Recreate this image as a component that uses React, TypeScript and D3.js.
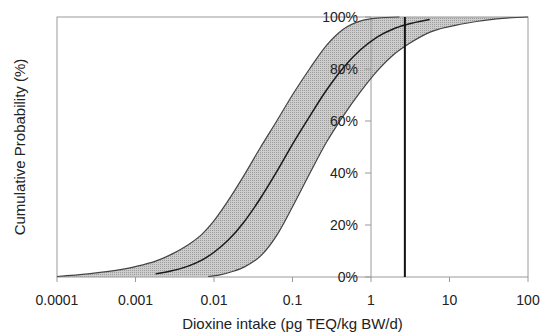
import React from "react";
import * as d3 from "d3";

// Upper bound curve (left edge of the band)
const leftX = [0.0001, 0.00025, 0.00067, 0.001, 0.0018, 0.0029, 0.0047, 0.007, 0.0098, 0.0145, 0.0236, 0.0385, 0.063, 0.102, 0.167, 0.273, 0.444, 0.724, 1.18, 2.3];
const leftP = [0.2, 1.2, 2.9, 4.0, 6.1, 8.8, 12.4, 16.4, 21.3, 28.5, 38.6, 49.5, 60, 70.5, 80.3, 89.2, 95.3, 98.4, 99.6, 100];

// Median curve
const medX = [0.0018, 0.0029, 0.0047, 0.007, 0.0103, 0.0152, 0.0236, 0.0385, 0.063, 0.102, 0.167, 0.273, 0.444, 0.724, 1.18, 1.92, 2.71, 5.6];
const medP = [1.2, 2.4, 4.2, 6.5, 9.8, 14.2, 20.8, 30.0, 40.5, 51.5, 62, 72, 80.5, 87.2, 92.2, 95.4, 96.9, 99.0];

// Lower bound curve (right edge of the band)
const rightX = [0.0084, 0.0119, 0.0176, 0.0248, 0.0406, 0.063, 0.102, 0.167, 0.273, 0.444, 0.724, 1.18, 1.92, 3.14, 5.65, 15, 40, 100];
const rightP = [0.2, 0.8, 2.2, 4.0, 8.5, 16, 27.5, 40, 52, 62, 71, 79, 85.4, 90, 94.2, 97.4, 99.3, 100];

const referenceLine = 2.7;

const xTicks = [0.0001, 0.001, 0.01, 0.1, 1, 10, 100];
const xTickLabels = ["0.0001", "0.001", "0.01", "0.1", "1", "10", "100"];
const yTicks = [0, 20, 40, 60, 80, 100];
const yTickLabels = ["0%", "20%", "40%", "60%", "80%", "100%"];

const xTitle = "Dioxine intake (pg TEQ/kg BW/d)";
const yTitle = "Cumulative Probability (%)";

const W = 542;
const H = 333;
const M = { left: 57, right: 528, top: 17, bottom: 277 };
const FONT = "'Liberation Sans', Arial, sans-serif";

export default function App() {
  const x = d3.scaleLog().domain([0.0001, 100]).range([M.left, M.right]);
  const y = d3.scaleLinear().domain([0, 100]).range([M.bottom, M.top]);

  const zip = (xs: number[], ps: number[]) => xs.map((v, i) => [v, ps[i]] as [number, number]);
  const left = zip(leftX, leftP);
  const med = zip(medX, medP);
  const right = zip(rightX, rightP);

  const line = d3
    .line<[number, number]>()
    .x((d) => x(d[0]))
    .y((d) => y(d[1]))
    .curve(d3.curveMonotoneX);

  const area = d3
    .area<[number, number]>()
    .x((d) => x(d[0]))
    .y0(y(0))
    .y1((d) => y(d[1]))
    .curve(d3.curveMonotoneX);

  const leftFill = [...left, [100, 100] as [number, number]];
  const rightFill = [[0.0001, 0] as [number, number], ...right];

  const yAxisX = x(1);
  const gridColor = "#9a9a9a";

  return (
    <svg width={W} height={H} style={{ position: "absolute", left: 0, top: 0, background: "#fff" }} fontFamily={FONT}>
      <defs>
        <pattern id="dots" width="2" height="2" patternUnits="userSpaceOnUse">
          <rect width="2" height="2" fill="#cdcdcd" />
          <rect width="1" height="1" fill="#9c9c9c" />
        </pattern>
      </defs>
      <rect width={W} height={H} fill="#fff" />
      {/* band */}
      <path d={area(leftFill) || ""} fill="url(#dots)" />
      <path d={area(rightFill) || ""} fill="#fff" />

      {/* frame */}
      <rect x={M.left} y={M.top} width={M.right - M.left} height={M.bottom - M.top} fill="none" stroke={gridColor} strokeWidth={1} />

      {/* x ticks */}
      {xTicks.map((t) => (
        <line key={"xt" + t} x1={x(t)} x2={x(t)} y1={M.bottom} y2={M.bottom + 5} stroke={gridColor} />
      ))}
      {/* y axis at 1 */}
      <line x1={yAxisX} x2={yAxisX} y1={M.top} y2={M.bottom} stroke={gridColor} />
      {yTicks.map((t) => (
        <line key={"yt" + t} x1={yAxisX - 6} x2={yAxisX} y1={y(t)} y2={y(t)} stroke={gridColor} />
      ))}

      {/* curves */}
      <path d={line(left) || ""} fill="none" stroke="#444" strokeWidth={1.2} />
      <path d={line(right) || ""} fill="none" stroke="#444" strokeWidth={1.2} />
      <path d={line(med) || ""} fill="none" stroke="#1a1a1a" strokeWidth={1.5} />

      {/* reference line */}
      <line x1={x(referenceLine)} x2={x(referenceLine)} y1={y(100)} y2={y(0)} stroke="#111" strokeWidth={2} />

      {/* labels */}
      {yTicks.map((t, i) => (
        <text key={"yl" + t} x={yAxisX - 13} y={y(t)} dy="0.35em" textAnchor="end" fontSize={14} fill="#222">
          {yTickLabels[i]}
        </text>
      ))}
      {xTicks.map((t, i) => (
        <text key={"xl" + t} x={x(t)} y={305} textAnchor="middle" fontSize={14} fill="#222">
          {xTickLabels[i]}
        </text>
      ))}
      <text x={(M.left + M.right) / 2} y={329} textAnchor="middle" fontSize={15} fill="#222">
        {xTitle}
      </text>
      <text transform={`translate(25, ${(M.top + M.bottom) / 2}) rotate(-90)`} textAnchor="middle" fontSize={15} fill="#222">
        {yTitle}
      </text>
    </svg>
  );
}
